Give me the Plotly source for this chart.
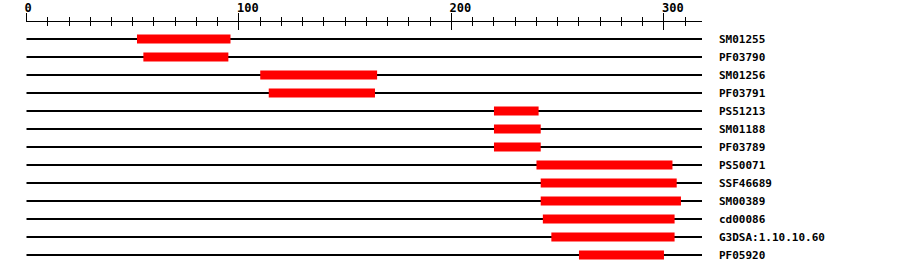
import plotly.graph_objects as go

# Data
seq_length = 318
domain_names = ["SM01255", "PF03790", "SM01256", "PF03791", "PS51213", "SM01188",
                "PF03789", "PS50071", "SSF46689", "SM00389", "cd00086",
                "G3DSA:1.10.10.60", "PF05920"]
domain_starts = [52, 55, 110, 114, 220, 220, 220, 240, 242, 242, 243, 247, 260]
domain_ends = [96, 95, 165, 164, 241, 242, 242, 304, 306, 308, 305, 305, 300]
major_ticks = [0, 100, 200, 300]
major_tick_labels = ["0", "100", "200", "300"]
minor_step = 10

rows = list(range(len(domain_names)))

font_family = "DejaVu Sans Mono"

fig = go.Figure()

# baselines (sequence length lines)
fig.add_trace(go.Bar(
    y=rows, x=[seq_length] * len(rows), base=[0] * len(rows),
    orientation="h", width=0.056,
    marker=dict(color="black", line=dict(width=0)),
    hoverinfo="skip",
))

# domain bars
fig.add_trace(go.Bar(
    y=rows,
    x=[e - s for s, e in zip(domain_starts, domain_ends)],
    base=domain_starts,
    orientation="h", width=0.5,
    marker=dict(color="#FF0000", line=dict(width=0)),
    hoverinfo="skip",
))

# invisible trace on the overlaying axis so the inside ticks render
fig.add_trace(go.Scatter(x=[0], y=[0], xaxis="x2", mode="markers",
                         marker=dict(opacity=0), hoverinfo="skip"))

xr = [-0.235, 317.9]
fig.update_layout(
    width=900, height=274,
    margin=dict(l=26, r=198, t=22, b=4, autoexpand=False),
    paper_bgcolor="white", plot_bgcolor="white",
    showlegend=False, barmode="overlay",
    xaxis=dict(
        range=xr, side="top", showgrid=False, zeroline=False, automargin=False,
        showline=True, linecolor="black", linewidth=1,
        tickvals=major_ticks, ticktext=major_tick_labels,
        ticks="outside", ticklen=8, tickcolor="black", tickwidth=1,
        ticklabelposition="outside right",
        ticklabelstandoff=4, ticklabelshift=-3,
        tickfont=dict(family=font_family, size=12, color="black", weight="bold"),
        minor=dict(dtick=minor_step, tick0=0, ticks="outside", ticklen=4,
                   tickcolor="black", tickwidth=1, showgrid=False),
    ),
    xaxis2=dict(
        range=xr, overlaying="x", side="top", anchor="y", automargin=False,
        showgrid=False, zeroline=False, showline=False,
        tickvals=major_ticks, showticklabels=False,
        ticks="inside", ticklen=8, tickcolor="black", tickwidth=1,
        minor=dict(dtick=minor_step, tick0=0, ticks="inside", ticklen=4,
                   tickcolor="black", tickwidth=1, showgrid=False),
    ),
    yaxis=dict(
        range=[12.833, -0.944], side="right", showgrid=False, zeroline=False,
        showline=False, tickvals=rows, ticktext=domain_names, ticks="",
        ticklabelstandoff=16, automargin=False,
        tickfont=dict(family=font_family, size=11, color="black", weight="bold"),
    ),
)

fig.write_html("out.html")
